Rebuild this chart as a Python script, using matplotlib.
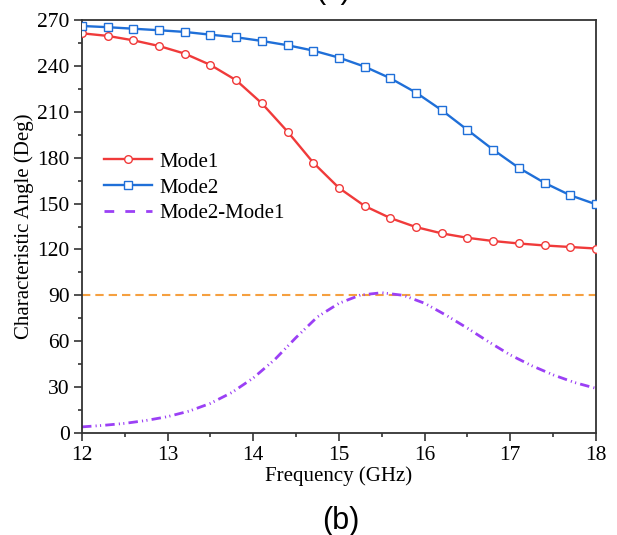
import numpy as np
import matplotlib
matplotlib.use("Agg")
import matplotlib.pyplot as plt
from matplotlib.lines import Line2D
from matplotlib.ticker import MultipleLocator

# data
freq = [12.0, 12.3, 12.6, 12.9, 13.2, 13.5, 13.8, 14.1, 14.4, 14.7, 15.0,
        15.3, 15.6, 15.9, 16.2, 16.5, 16.8, 17.1, 17.4, 17.7, 18.0]
mode1 = [261.3, 259.6, 256.7, 253.0, 248.0, 240.6, 230.6, 215.5, 197.0, 176.7, 160.2,
         148.4, 140.5, 134.6, 130.5, 127.6, 125.5, 123.9, 122.6, 121.6, 120.6]
mode2 = [266.1, 265.3, 264.3, 263.3, 262.2, 260.4, 258.7, 256.3, 253.5, 250.0, 245.4,
         239.5, 231.9, 222.5, 211.0, 198.1, 185.2, 173.3, 163.5, 155.4, 149.5]

freq_diff = [12.0, 12.25, 12.5, 12.75, 13.0, 13.25, 13.5, 13.75, 14.0, 14.25, 14.5,
             14.75, 15.0, 15.25, 15.5, 15.75, 16.0, 16.25, 16.5, 16.75, 17.0,
             17.25, 17.5, 17.75, 18.0]
diff = [4.0, 5.0, 6.3, 8.2, 10.7, 14.3, 19.4, 26.5, 36.0, 48.0, 62.5,
        76.0, 84.8, 90.2, 91.7, 90.0, 84.8, 77.0, 68.5, 59.5, 51.0,
        44.0, 38.0, 33.0, 29.2]

ref_level = 90

red = "#F03A3A"
blue = "#1F6FD8"
purple = "#9B40F5"
orange = "#F5A040"

plt.rcParams["font.family"] = ["Liberation Serif", "DejaVu Serif"]

fig = plt.figure(figsize=(6.17, 5.35), dpi=100)
ax = fig.add_axes([82 / 617, 1 - 433 / 535, 514 / 617, 413 / 535])

ax.axhline(ref_level, color=orange, lw=1.5, ls=(0, (4.0, 2.4)), zorder=1)
ax.plot(freq_diff, diff, color=purple, lw=2.0,
        ls=(0, (3.4, 1.5, 0.4, 1.2, 0.4, 1.5)), zorder=2)
ax.plot(freq, mode1, color=red, lw=1.7, marker="o", ms=5.5,
        mfc="white", mec=red, mew=1.0, zorder=3)
ax.plot(freq, mode2, color=blue, lw=1.7, marker="s", ms=5.2,
        mfc="white", mec=blue, mew=1.0, zorder=3)

ax.set_xlim(12, 18)
ax.set_ylim(0, 270)
ax.xaxis.set_major_locator(MultipleLocator(1))
ax.xaxis.set_minor_locator(MultipleLocator(0.5))
ax.yaxis.set_major_locator(MultipleLocator(30))
ax.yaxis.set_minor_locator(MultipleLocator(15))
ax.tick_params(which="both", direction="out", top=False, right=False,
               color="#333333", width=1.2, labelsize=15.5)
ax.tick_params(which="major", length=5.5)
ax.tick_params(which="minor", length=3)
for s in ax.spines.values():
    s.set_linewidth(1.3)
    s.set_color("#333333")

ax.set_xlabel("Frequency (GHz)", fontsize=15, labelpad=1)
ax.set_ylabel("Characteristic Angle (Deg)", fontsize=15, labelpad=2)

handles = [
    Line2D([], [], color=red, lw=1.7, marker="o", ms=5.5, mfc="white", mec=red),
    Line2D([], [], color=blue, lw=1.7, marker="s", ms=5.2, mfc="white", mec=blue),
    Line2D([], [], color=purple, lw=2.0, ls=(0, (3.5, 4))),
]
ax.legend(handles, ["Mode1", "Mode2", "Mode2-Mode1"], loc="upper left",
          bbox_to_anchor=(0.043, 0.68), frameon=False, fontsize=15,
          borderpad=0, borderaxespad=0, handlelength=2.3, handletextpad=0.35,
          labelspacing=0.3)

fig.text(0.553, 0.027, "(b)", ha="center", va="center", fontsize=22,
         family=["Liberation Sans", "DejaVu Sans"])
fig.text(0.54, 1 + 2 / 535, "(c)", ha="center", va="baseline", fontsize=22,
         family=["Liberation Sans", "DejaVu Sans"])

fig.savefig("out.png", dpi=100)
